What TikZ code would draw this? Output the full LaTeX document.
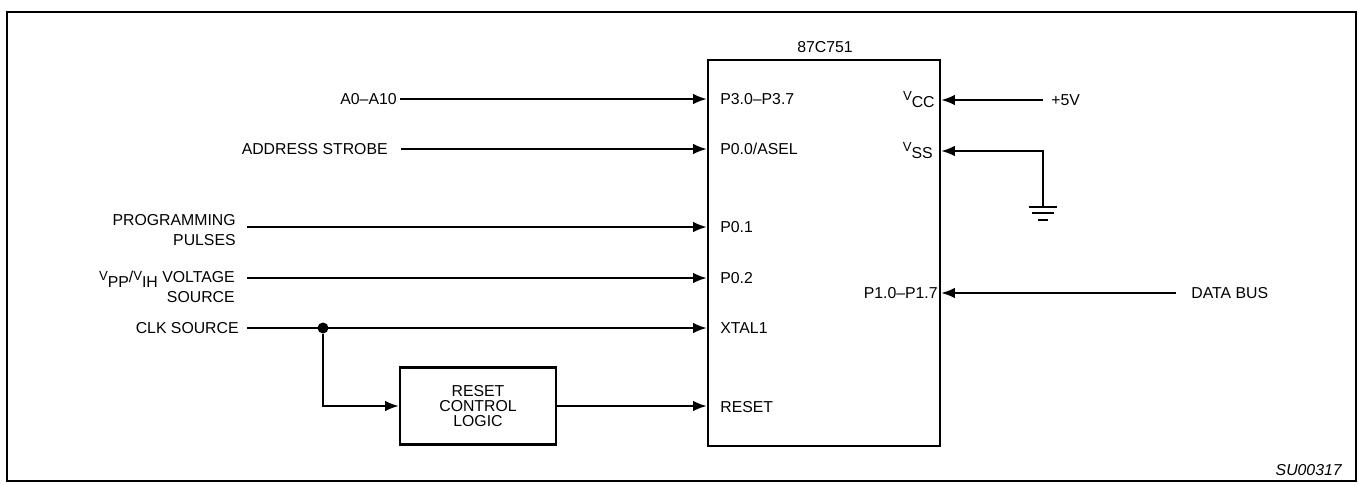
\documentclass[tikz,border=0pt]{standalone}
\usepackage{fontspec}
\setmainfont{Liberation Sans}
\usetikzlibrary{arrows.meta, positioning, calc}

\newcommand{\vsub}[2]{\raisebox{1.5pt}{\fontsize{7.5}{8}\selectfont #1}\raisebox{-2.5pt}{#2}}

\begin{document}
\begin{tikzpicture}[
    x=0.2mm, y=-0.2mm,
    >={Latex[length=2.7mm,width=2.1mm]},
    font=\fontsize{9}{11.4}\selectfont,
    chip/.style={
        rectangle, draw, line width=1.5pt,
        minimum width=46.4mm, minimum height=77.2mm,
        inner sep=0pt
    },
    logic/.style={
        rectangle, draw, line width=1.5pt,
        minimum width=31.2mm, minimum height=15.4mm,
        align=center, inner sep=0pt,
        font=\fontsize{9}{8.6}\selectfont
    },
    sigin/.style={anchor=east, inner sep=0pt, align=right},
    pinl/.style={anchor=west, inner sep=0pt},
    pinr/.style={anchor=east, inner sep=0pt},
    plain/.style={inner sep=0pt},
    sig/.style={line width=1pt, ->},
    wire/.style={line width=1.5pt},
    dot/.style={circle, fill, inner sep=0pt, minimum size=2.2mm},
    frame/.style={line width=1.2pt}
]
\useasboundingbox (0,0) rectangle (1359,484);

\node (chip) [chip] at (824,253) {};
\node (name) [plain] at (825,47) {87C751};

% pin names
\node (p30)  [pinl] at (720,99)  {P3.0--P3.7};
\node (p00)  [pinl] at (720,149) {P0.0/ASEL};
\node (p01)  [pinl] at (720,227) {P0.1};
\node (p02)  [pinl] at (720,278) {P0.2};
\node (xtal) [pinl] at (720,328) {XTAL1};
\node (rst)  [pinl] at (720,407) {RESET};
\node (vcc)  [pinr] at (935,100) {\vsub{V}{CC}};
\node (vss)  [pinr] at (933,151) {\vsub{V}{SS}};
\node (p10)  [pinr] at (938,293) {P1.0--P1.7};

% sources
\node (addr)   [sigin] at (397,99)  {A0--A10};
\node (strobe) [sigin] at (388,149) {ADDRESS STROBE};
\node (prog)   [sigin] at (236,230) {PROGRAMMING\\PULSES};
\node (vpp)    [sigin] at (235,287) {\vsub{V}{PP}/\vsub{V}{IH} VOLTAGE\\SOURCE};
\node (clk)    [sigin] at (239,328) {CLK SOURCE};
\node (rcl)    [logic] at (478,406) {RESET\\CONTROL\\LOGIC};
\node (jn)     [dot]   at (323,328) {};

\node (five) [plain, anchor=west] at (1051,100) {+5V};
\node (dbus) [plain, anchor=west] at (1191,293) {DATA BUS};
\coordinate (gnd) at (1043,207);

\node (code) [plain, anchor=east, font=\fontsize{9}{11}\selectfont\itshape] at (1342,470) {SU00317};

\draw[sig] ($(addr.east)+(3,0)$)           -- (addr.east -| chip.west);
\draw[sig] ($(strobe.east)+(13,0)$)        -- (p00 -| chip.west);
\draw[sig] ($(prog.east |- p01)+(11,0)$)   -- (p01 -| chip.west);
\draw[sig] ($(vpp.east |- p02)+(12,0)$)    -- (p02 -| chip.west);
\draw[sig] ($(clk.east)+(8,0)$)            -- (xtal -| chip.west);
\draw[sig] (jn) |- (rcl.west);
\draw[sig] (rcl.east) -- (rcl.east -| chip.west);

\draw[sig] ($(five.west)+(-8,0)$)  -- (vcc -| chip.east);
\draw[sig] (gnd) |- (vss -| chip.east);
\draw[sig] ($(dbus.west)+(-15,0)$) -- (p10 -| chip.east);

% ground
\draw[wire] ($(gnd)+(-14,0)$) -- ($(gnd)+(14,0)$);
\draw[wire] ($(gnd)+(-11,6)$) -- ($(gnd)+(11,6)$);
\draw[wire] ($(gnd)+(-5,13)$) -- ($(gnd)+(5,13)$);

\draw[frame] (7,12) rectangle (1356,481);

\end{tikzpicture}
\end{document}
